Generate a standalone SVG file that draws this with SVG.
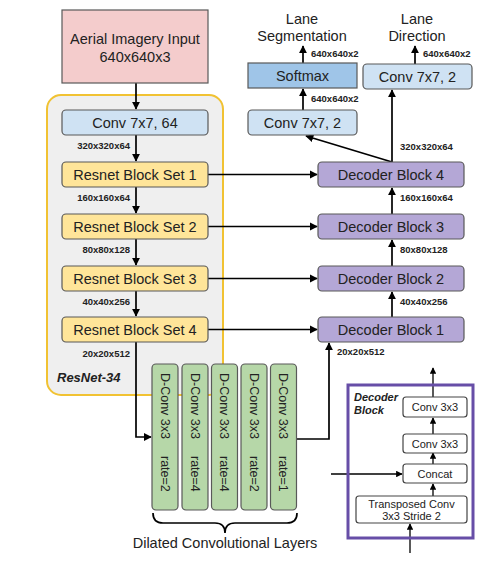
<svg xmlns="http://www.w3.org/2000/svg" width="494" height="566" viewBox="0 0 494 566">
<defs>
<style>
text{font-family:"Liberation Sans",Arial,sans-serif;fill:#222}
.t{font-size:14.5px;text-anchor:middle}
.s{font-size:9.5px;font-weight:bold}
.e{text-anchor:end}
.box{stroke:#595959;stroke-width:1.2}
.in{fill:#fff;stroke:#444;stroke-width:1.2}
.it{font-size:11px;text-anchor:middle}
.ln{fill:none;stroke:#000;stroke-width:1.7}
.ls{fill:none;stroke:#000;stroke-width:1.3}
.dc{fill:#b6d7a8;stroke:#595959;stroke-width:1.2}
.dt{font-size:12.5px}
</style>
<marker id="a" viewBox="0 0 10 10" refX="9" refY="5" markerWidth="4.8" markerHeight="4.8" orient="auto" markerUnits="strokeWidth">
<path d="M0,0L10,5L0,10z" fill="#000"/>
</marker>
<marker id="b" viewBox="0 0 10 10" refX="9" refY="5" markerWidth="5" markerHeight="5" orient="auto" markerUnits="strokeWidth">
<path d="M0,0L10,5L0,10z" fill="#000"/>
</marker>
</defs>
<rect width="494" height="566" fill="#fff"/>

<g id="resnet34">
<rect x="47" y="95" width="176" height="300" rx="14" fill="#efefef" stroke="#f1c232" stroke-width="2"/>
<text x="57" y="382" style="font-size:13px;font-weight:bold;font-style:italic">ResNet-34</text>
</g>

<g id="connectors">
<line class="ln" x1="136" y1="83" x2="136" y2="109" marker-end="url(#a)"/>
<line class="ln" x1="136" y1="135" x2="136" y2="161" marker-end="url(#a)"/>
<line class="ln" x1="136" y1="187" x2="136" y2="213" marker-end="url(#a)"/>
<line class="ln" x1="136" y1="239" x2="136" y2="265" marker-end="url(#a)"/>
<line class="ln" x1="136" y1="291" x2="136" y2="316" marker-end="url(#a)"/>
<path class="ln" d="M136,342V437H151" marker-end="url(#a)"/>
<path class="ln" d="M296,439H329V343" marker-end="url(#a)"/>
<line class="ln" x1="208" y1="174.5" x2="317" y2="174.5" marker-end="url(#a)"/>
<line class="ln" x1="208" y1="226.5" x2="317" y2="226.5" marker-end="url(#a)"/>
<line class="ln" x1="208" y1="278.5" x2="317" y2="278.5" marker-end="url(#a)"/>
<line class="ln" x1="208" y1="329.5" x2="317" y2="329.5" marker-end="url(#a)"/>
<line class="ln" x1="392" y1="317" x2="392" y2="292" marker-end="url(#a)"/>
<line class="ln" x1="392" y1="266" x2="392" y2="240" marker-end="url(#a)"/>
<line class="ln" x1="392" y1="214" x2="392" y2="188" marker-end="url(#a)"/>
<line class="ln" x1="392" y1="162" x2="392" y2="90" marker-end="url(#a)"/>
<line class="ln" x1="392" y1="162" x2="306" y2="136" marker-end="url(#a)"/>
<line class="ln" x1="303" y1="110" x2="303" y2="89" marker-end="url(#a)"/>
<line class="ln" x1="303" y1="63" x2="303" y2="46" marker-end="url(#a)"/>
<line class="ln" x1="415" y1="64" x2="415" y2="46" marker-end="url(#a)"/>
<path class="ln" d="M153,513Q153,523 163,523H215Q225,523 225,533Q225,523 235,523H287Q297,523 297,513"/>
<line class="ls" x1="331" y1="474" x2="402" y2="474" marker-end="url(#b)"/>
<line class="ls" x1="410" y1="553" x2="410" y2="524" marker-end="url(#b)"/>
<line class="ls" x1="433" y1="496" x2="433" y2="484" marker-end="url(#b)"/>
<line class="ls" x1="433" y1="464" x2="433" y2="453" marker-end="url(#b)"/>
<line class="ls" x1="433" y1="434" x2="433" y2="418" marker-end="url(#b)"/>
<line class="ls" x1="433" y1="397" x2="433" y2="368" marker-end="url(#b)"/>
</g>

<g id="labels">
<text class="s e" x="130" y="149">320x320x64</text>
<text class="s e" x="130" y="201">160x160x64</text>
<text class="s e" x="130" y="253">80x80x128</text>
<text class="s e" x="130" y="305">40x40x256</text>
<text class="s e" x="130" y="357">20x20x512</text>
<text class="s" x="400" y="201">160x160x64</text>
<text class="s" x="400" y="253">80x80x128</text>
<text class="s" x="400" y="305">40x40x256</text>
<text class="s" x="337" y="355">20x20x512</text>
<text class="s" x="400" y="150">320x320x64</text>
<text class="s" x="311" y="102">640x640x2</text>
<text class="s" x="311" y="57">640x640x2</text>
<text class="s" x="423" y="57">640x640x2</text>
<text class="t" x="302" y="24">Lane</text>
<text class="t" x="302" y="41">Segmentation</text>
<text class="t" x="417" y="24">Lane</text>
<text class="t" x="417" y="41">Direction</text>
<text class="t" x="225" y="548">Dilated Convolutional Layers</text>
</g>

<g id="input">
<rect class="box" x="62" y="10" width="146" height="73" fill="#f4cccc"/>
<text class="t" x="135" y="44">Aerial Imagery Input</text>
<text class="t" x="135" y="62">640x640x3</text>
</g>
<g id="conv1">
<rect class="box" x="62" y="110" width="146" height="25" rx="4" fill="#cfe2f3"/>
<text class="t" x="135" y="128">Conv 7x7, 64</text>
</g>
<g id="res1">
<rect class="box" x="62" y="162" width="146" height="25" rx="4" fill="#ffe599"/>
<text class="t" x="135" y="180">Resnet Block Set 1</text>
</g>
<g id="res2">
<rect class="box" x="62" y="214" width="146" height="25" rx="4" fill="#ffe599"/>
<text class="t" x="135" y="232">Resnet Block Set 2</text>
</g>
<g id="res3">
<rect class="box" x="62" y="266" width="146" height="25" rx="4" fill="#ffe599"/>
<text class="t" x="135" y="284">Resnet Block Set 3</text>
</g>
<g id="res4">
<rect class="box" x="62" y="317" width="146" height="25" rx="4" fill="#ffe599"/>
<text class="t" x="135" y="335">Resnet Block Set 4</text>
</g>

<g id="dec4">
<rect class="box" x="318" y="162" width="146" height="25" rx="4" fill="#b4a7d6"/>
<text class="t" x="391" y="180">Decoder Block 4</text>
</g>
<g id="dec3">
<rect class="box" x="318" y="214" width="146" height="25" rx="4" fill="#b4a7d6"/>
<text class="t" x="391" y="232">Decoder Block 3</text>
</g>
<g id="dec2">
<rect class="box" x="318" y="266" width="146" height="25" rx="4" fill="#b4a7d6"/>
<text class="t" x="391" y="284">Decoder Block 2</text>
</g>
<g id="dec1">
<rect class="box" x="318" y="317" width="146" height="25" rx="4" fill="#b4a7d6"/>
<text class="t" x="391" y="335">Decoder Block 1</text>
</g>

<g id="convSeg">
<rect class="box" x="248" y="110" width="109" height="25" rx="4" fill="#cfe2f3"/>
<text class="t" x="302.5" y="128">Conv 7x7, 2</text>
</g>
<g id="softmax">
<rect class="box" x="248" y="63" width="109" height="25" fill="#9fc5e8"/>
<text class="t" x="302.5" y="81">Softmax</text>
</g>
<g id="convDir">
<rect class="box" x="363" y="64" width="109" height="25" rx="4" fill="#cfe2f3"/>
<text class="t" x="417.5" y="82">Conv 7x7, 2</text>
</g>

<g id="dconv1">
<rect class="dc" x="152" y="364" width="26" height="146" rx="4"/>
<text class="dt" transform="translate(165,373) rotate(90)" dy="0.35em">D-Conv 3x3<tspan dx="17">rate=2</tspan></text>
</g>
<g id="dconv2">
<rect class="dc" x="182" y="364" width="26" height="146" rx="4"/>
<text class="dt" transform="translate(195,373) rotate(90)" dy="0.35em">D-Conv 3x3<tspan dx="17">rate=4</tspan></text>
</g>
<g id="dconv3">
<rect class="dc" x="211.5" y="364" width="26" height="146" rx="4"/>
<text class="dt" transform="translate(224.5,373) rotate(90)" dy="0.35em">D-Conv 3x3<tspan dx="17">rate=4</tspan></text>
</g>
<g id="dconv4">
<rect class="dc" x="241" y="364" width="26" height="146" rx="4"/>
<text class="dt" transform="translate(254,373) rotate(90)" dy="0.35em">D-Conv 3x3<tspan dx="17">rate=2</tspan></text>
</g>
<g id="dconv5">
<rect class="dc" x="270.5" y="364" width="26" height="146" rx="4"/>
<text class="dt" transform="translate(283.5,373) rotate(90)" dy="0.35em">D-Conv 3x3<tspan dx="17">rate=1</tspan></text>
</g>

<g id="decoderInset">
<rect x="348" y="385" width="125" height="153" fill="none" stroke="#674ea7" stroke-width="3"/>
<text x="354" y="401" style="font-size:11px;font-weight:bold;font-style:italic">Decoder</text>
<text x="354" y="414" style="font-size:11px;font-weight:bold;font-style:italic">Block</text>
</g>
<g id="inConv1">
<rect class="in" x="403" y="397" width="64" height="20" rx="3"/>
<text class="it" x="435" y="411">Conv 3x3</text>
</g>
<g id="inConv2">
<rect class="in" x="403" y="434" width="64" height="19" rx="3"/>
<text class="it" x="435" y="447.5">Conv 3x3</text>
</g>
<g id="inConcat">
<rect class="in" x="403" y="464" width="64" height="19" rx="3"/>
<text class="it" x="435" y="477.5">Concat</text>
</g>
<g id="inTrans">
<rect class="in" x="356" y="496" width="111" height="27" rx="3"/>
<text class="it" x="411.5" y="507.5">Transposed Conv</text>
<text class="it" x="411.5" y="519.5">3x3 Stride 2</text>
</g>
</svg>
